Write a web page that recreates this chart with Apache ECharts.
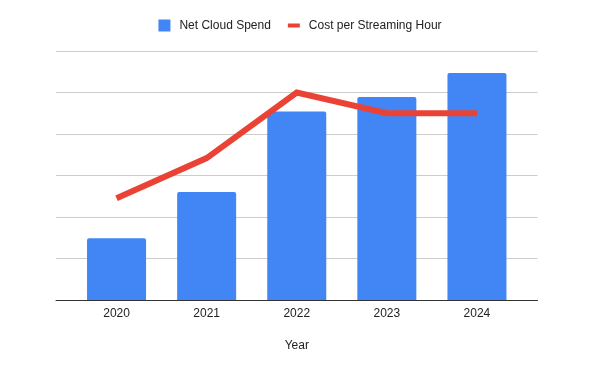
<!DOCTYPE html>
<html>
<head>
<meta charset="utf-8">
<script src="https://cdn.jsdelivr.net/npm/echarts@6/dist/echarts.min.js"></script>
<style>
html,body{margin:0;padding:0;background:#fff;}
#chart{width:600px;height:371px;}
</style>
</head>
<body>
<div id="chart"></div>
<script>
var categories = ['2020', '2021', '2022', '2023', '2024'];
var netCloudSpend = [1.49, 2.6, 4.54, 4.89, 5.47];
var costPerStreamingHour = [2.45, 3.42, 5.0, 4.5, 4.5];
var seriesNames = ['Net Cloud Spend', 'Cost per Streaming Hour'];
var xAxisName = 'Year';

var FONT = '"Liberation Sans", Arial, sans-serif';
var chart = echarts.init(document.getElementById('chart'), null, {renderer: 'canvas'});
chart.setOption({
  animation: false,
  textStyle: {fontFamily: FONT},
  legend: {
    top: 19.5,
    left: 'center',
    padding: 0,
    itemWidth: 12,
    itemHeight: 12,
    itemGap: 17,
    textStyle: {fontFamily: FONT, fontSize: 12, color: '#222', padding: [0, 0, 0, 4]},
    data: [
      {name: seriesNames[0], icon: 'rect'},
      {name: seriesNames[1], icon: 'path://M0,0 M0,12 M0,4 L12,4 L12,8 L0,8 Z'}
    ]
  },
  grid: [
    {left: 56, right: 62.5, top: 51, bottom: 71},
    {left: 71.5, right: 78, top: 51, bottom: 71}
  ],
  xAxis: [
    {
      type: 'category',
      gridIndex: 0,
      data: categories,
      axisLine: {lineStyle: {color: '#333', width: 1}},
      axisTick: {show: false},
      axisLabel: {show: false}
    },
    {
      type: 'category',
      gridIndex: 1,
      data: categories,
      name: xAxisName,
      nameLocation: 'middle',
      nameGap: 40,
      nameTextStyle: {fontFamily: FONT, fontSize: 12, color: '#222'},
      axisLine: {show: false},
      axisTick: {show: false},
      axisLabel: {fontFamily: FONT, fontSize: 12, color: '#222', margin: 8}
    }
  ],
  yAxis: [
    {
      type: 'value',
      gridIndex: 0,
      min: 0,
      max: 6,
      interval: 1,
      axisLabel: {show: false},
      axisLine: {show: false},
      axisTick: {show: false},
      splitLine: {lineStyle: {color: '#cccccc', width: 1}}
    },
    {
      type: 'value',
      gridIndex: 1,
      min: 0,
      max: 6,
      interval: 1,
      axisLabel: {show: false},
      axisLine: {show: false},
      axisTick: {show: false},
      splitLine: {show: false}
    }
  ],
  series: [
    {
      name: seriesNames[0],
      type: 'bar',
      xAxisIndex: 1,
      yAxisIndex: 1,
      data: netCloudSpend,
      barWidth: 59,
      itemStyle: {color: '#4285f4', borderRadius: [2, 2, 0, 0]},
      z: 2
    },
    {
      name: seriesNames[1],
      type: 'line',
      xAxisIndex: 1,
      yAxisIndex: 1,
      data: costPerStreamingHour,
      symbol: 'none',
      lineStyle: {color: '#ea4335', width: 6, cap: 'butt', join: 'miter'},
      itemStyle: {color: '#ea4335'},
      z: 3
    }
  ]
});
</script>
</body>
</html>
